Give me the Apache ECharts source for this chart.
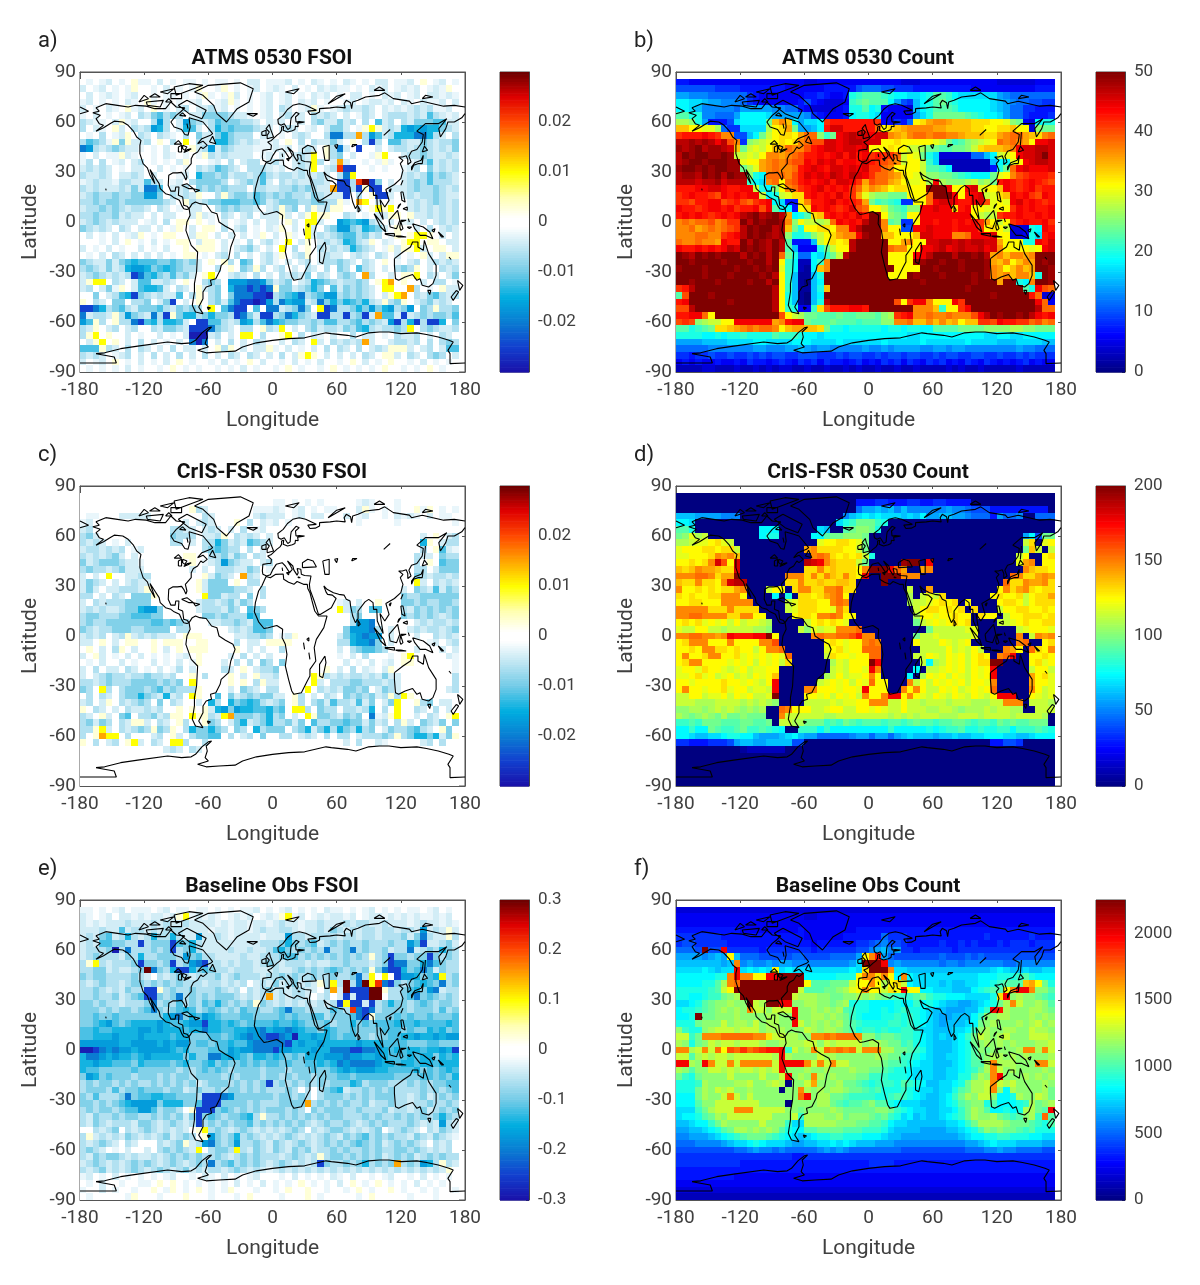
<!DOCTYPE html>
<html><head><meta charset="utf-8">
<style>html,body{margin:0;padding:0;background:#fff}#c{width:1200px;height:1285px}</style>
<script src="https://cdn.jsdelivr.net/npm/echarts@6/dist/echarts.min.js"></script>
</head><body><div id="c"></div>
<script>
// Each row: one latitude band (north to south, 4 degrees tall), groups of cells spanning 60 degrees of longitude (6 degrees per cell).
const atmsFsoiRows = [
".a.ab.a.+a a.b.a.aa.a .aa.a.bb.a aab.a.ba.a .ba.a.bb.a ab.+.ab.a",
"b.ab.a.a+. .a.b.a.a+. .a+.a.ab.a ba.b.a.bab aa.a.bab.a bab.aba+.",
".b.aba.ab. .a.aa.a.a+ a.a+b.a.ab .ab.a.bab. a.bb.a.bab .ab.bbaba",
"ab.a.a.ba. +a.a.a.ab. .ab+a.a.ab .ab.bab.a. .ab.abbab. ba.baab.b",
"b.a.ba.+ab .+.a.bc.bb cab.a.a.ab .cb.ab+a.a bcbbcb.bab abcbcaab.",
"a.b.a.ab.c bdecdc.bbd dddcbba.ab .bcab.cbcb .b.acb.bcc cbcbecbab",
"cbaa.b+ab. .cgc.bgdcb cedddccb.b ab.ab.cdbb dbc.c.ebc. cbdddeebb",
"c.ba.+b.cb cgfc.bfeb. cfdedddcbb .bcb.ab.bd db.a+y+bcb fgfgffdcb",
".a.c.ab+.c b.cba.c.db bdfdccc.bb .a.bcb..ch hccocgebcf ffhhfcb.c",
"cedca+d+bb c.+.c.y.cb bffdcbcbaa b.+.c.cbbd b.+.cic.ee cbbdcbccd",
"hgcbcdcbba .a.b...+bc gbdcbbbaaa bab.bcb.+c hb.i..b.bc cbcdcbcbd",
"a.b.aa+ba. .a.ba.a.a+ cbcbbbb.ab .b.bcby.+c d.b..a+y.. bccdcbbcb",
"ac.c.ab.bc .a.a.b+... ab.c.bcc.b ca.bcbyc.b ob..a.a+a. .abcebcbc",
"bcbcb.a.bb ..b.a.a.cb cedcb.cccb ab.bcby.bc rii..a.a.. abc.dbcbc",
"cbbcb.bbcb .b...ab.fd dcdbccbcec bccbcbbcb. chy....... bcbcecdcb",
"abcbbaccbb ecb.ab.cdd ddc.bcdceb .cbcbbccb. iicrRid.b. bcdcecccb",
"cbcbbbcbdb hhe.bbc.dc dcdccc.ccb bccdcdcbbo iici+ii.bb bcdccdcbc",
"bcdccdccdd ggd.cbcb+. .c+cddcedc dcdccbdcbb bi.c.+iib. bcbccdcbb",
"ccdcddcddd dddcb.+cbc ddeeeddedb cdddccddcc +a.oy.b.a. .bcbcdcbc",
"bccdcdcbcc b.cb.a.bb. .cdcdccb.b c+cd.c+bc+ +..b.+y+y. .bcbcbcbc",
"ccdccdbcbb .b.bb..b+b a.cb.bc.bb b+b.b+y++. .cb.a.bb++ .+bbcbcbc",
"bcdcbcbbb. ab.c.++.+. a.b.ab.b.b b.+b.yyb.. gfefgcb.b. ab.b.bcbc",
"dcbcb.cb.b b.b.a+.b.+ +.c.bc.a.b a+.b.yb.cd ggdcfedb.+ ..b.c.bcb",
".b.a.b.ab+ .a.++..b++ .b.b.b.a+. b.+a.ybcbc deecdbc.a+ .+yy+.b.b",
"...a.b.+.a .b.a.++.b+ +.b.a.c.bc a.y.b+.bcb cfecb+.ba. +yy.++.bb",
"b.a.b.a..b .a.b..+.++ +.b.bcdb.b .y.c.+.cbc bcfdcb.a+b ++yb.++.b",
".a.b.cb.b. b.b.a.++.a .bc.c.b.bc a+.bc+.bcb b.bcb.cb.b .a.+b.b++",
"dcbbdbdefe eeddedcdb. +.+c.ed.bc a.b.bc.bcc dcb.cb.+.a .bc.bcbcb",
"cdcbdbcfgg fdefedccb. .c.+.dc+c. bc.b.cb.c. dc.ecb.b.c dc+.b.cbc",
"bcdcbcbcih efdcecdb.+ y..bcb.c.b .cbcbd.cb. cdc.oc..b. ++y.cb.bd",
"b+yy.cb.be ebbcb.+..c dc.ggghhgd bcd.bcfedc bccdc.+yo. +..b.cc.a",
"bc.bda+.be ffeb.cb.+b cd.fhhihih +ddbcdfd.e bdcdcb.yy. .oc.a.+bb",
"..d.bcefid cbcbbe.c+. cd.dhhhiij cdefhcdegg cdcdcb.b+y o.cbdecbc",
"+.cb.dd.cc d.bdi.b.+. cdbehiijig chfggbchdf dfedfcb+cd +.bcdbcb.",
"iihfcdecbd ddecbdcdc. y.ehii.e.h hbcdhd.yih ccdfdgdfgc dg.dc+ccd",
"hbccb+cgdc bhci+dffcd fddcihdbii cdhfdcbiic cicdiboeeb ibcdcddce",
"ge+c.+cchi efcffeb.ii eecbcgfceh feddccdcee ccdecdcbgi cficiif.d",
"cb+.bc.bc. .cbddcbiii hdcb.cc.+c by.b.cdbcc bdcefcbccd cy.cdcbbc",
"c+y.+..b.a ..b.a.bjjj bc.b.yy.c. .+y.c.ba.b ..c.bb.a.c bbc.b.cb.",
".b+y.+.b.c .b.a.b.hjh .b.c.b.cb. .b.cb.yb.c bcbcob..bc cbc.c.cdc",
"eee+cb.c.c b.b.c.bb.b .+c+.b.bb+ a.b.a.b.c. cb.c.bcb++ +b.bc.bee",
"cbcb.abc.b .c.b.c.b.c .b.cb.cb.b .c.b+y+.b. b.b.cb.++b .cb.cdc.b",
"b.ab.+.a.b .a.b.+.a.. a.b.a.+.b. .a.b.a.b.. a.+.b.a.+. .a.b.a.a.",
".a.a.a.b.a ..a.+.a.a. .a.a.b.a.. a.+.a..a.+ .a.a.a.+.. a.a.+.a.."
];
const atmsCountRows = [
"5544444444 4444444444 3344444444 4444433344 4444444444 333333444",
"7777776666 5555555444 4445555578 8877666555 5555554444 444444555",
"aa99988888 8654444444 5565445efg ggfeddccde ggfdcccccc a98888888",
"ddccbaa999 8654444445 7543334fgh gggda76bde ghfedddddc ba9887766",
"ddcb999998 aaaaa99885 4333345eeg de54443bde gggfdddddc ba8866555",
"ggee99888a ddddcaaaaa 9654445dee dc44444ace hhhhhgfedd ca8865556",
"jjiea5557c ddddhoqoda ccdtuuuuuu ut44658mnp qqpooonnnm mlih43dee",
"oommllj866 ccccjmnpha abduwwuuuu urmnopqqqq ppoooonnmm nnomm3ihh",
"tuuuvutqq7 7bdhkmnnmp rrifhvwxww vwwqpoqrrq rrqqpooonn pqrrponqr",
"xxyxyxvxsq 6ijklmnmnq rsswwvwxxw wwmmnmmmmm lkhfgijklm rqrqpmvvw",
"yxyzxyyxwo hklkmoorqq suvwwvwwvw mmmnmmkkjh hgghhiknoo opqvwwxxw",
"xzyzzyyzyk klkmqqpqrs uuvuvwuwuv tuttrkmlhe c3333388bd klmvwwxzw",
"xyzzyzzzyy lmmpqrqrss vuwvwuvvuw utsrqkmmkf c22222222b ddlmvwxxw",
"yzzyzyzzyy hjlpqrqqru vwvuwwvwvw ttrqmmmmkg gfd2222225 ehrvwvvvw",
"xyyxzyzxzy yiedrrrqsu wvwvxwvxwv trrqpnmlki ihhgfedddh lmqstuuut",
"xxxwxxywxx xfdcqrmrsu vuvwuwwvtp srrpomllmj vjiiijkijh uvutuvuts",
"uuuvvwwvuu vvkedimqrt uvwuvuvtro qpomnnmmmz zzvmmvwlmm ovutuvtuu",
"tuvuutsvuv uvvkdeklnn uvuvuwutpl jiihhhmmmr zzzvmuvwkl novuvtsvu",
"ttsuuvvstu srtuvdc55n quuvwuvutp hfgfe66mmr vwwvuuvwsl mlvwuvutu",
"vuutuvvuvt uuvsvgdd5m nvuvutuwsr mmkhgfiivv wvvnuvmmll mmtvuvuuv",
"uvuvutuvuv xyzxyzxpde gnouvuvuwu zzmihgmmvv vvvvvvmkjk tuuvuuvuv",
"qrqrrsqrtt zxzyzzyqim kkjkrvuvux zzqgh66mvv uvvuvuvtpm kmtuvuuvt",
"qqrpqrqrst xzyzzxyohe mmnnmqqvxz zzqmm77vvw vvvuvvvtmn mk333edvu",
"qqqrrqqtuv xzyzyxyiee fikmnpqqvy zzoommmoww vvvqqrvvvw mm334ecuv",
"rqqrqqpvuu zxzyxzxg55 5bkmnmnxzz zzzmmpqmmw wxxwxwxxww pmmmeevuw",
"vuuvuvuvxw zyzyxzxgb4 44ehkmmxzz zzzrqqmmvv wxvwxwwxvw qmmmmlmvw",
"zyxzyzyzzz xzyzxzrhe8 8dcfhkxzzz zzzmmmmvvx zzzxzzyzxp qoqqpqzzz",
"zzyzzzzyzz zyzzxzmfd2 2dfqzzzzzz zzzmmmmzyz zyzzyzzzyp oqmoqpzyz",
"yzzzyzzzzy zzyzyzlfd2 1doqzzzzzz zzzzmmmmzz yzzzyzzzyq pmoqopzzy",
"zzzzyzzzyz zzzyzxmfb1 1bezzzzzzz zzzmmmzyzz zyzzzzyzyq pqoqqoezy",
"zzyzzzyzzz zyzzxzmfb1 0bdzzzzzzz zzzzzzzzyz zzzzzzyzzz pzzedqzzy",
"tuxzzzzzzz zzzzzxmfb1 1beozzzzzz zzzzzzzzzz zzzzzyzzzz zzzzgevsr",
"gszzzyzzzz zzzzzxmeb1 0bdzzzzzzz zzzzzzzzzz zzzzzzzzzy zzzzzur33",
"uvzzzzzzyz zzzzzxmeb1 0bexzzzzzz zzzzsmtvvq mmmvtzzzzz zzzzzzvr4",
"ssxzzzzzzz zzzzzxmfe4 4fnsuuuvvu zzzzzzzqqq ofmmtvzzzz zzzzzzxrr",
"uuvvrmzzzz zzzzzzsmkj hhggghgghh hgijtuvqqr qqrqqqsvxz yzzyzxvuv",
"stsijkkmmv vvvvvpquvv hggghgggfg ggiiqqrooq oqopmootts vuuttrsqr",
"ggefghnnop qrqrrqmopp oonheedeee eedeedeedd gggghhhhii iijjiihhh",
"eeeeddedee feeeegfffe ddcddddddd ddddddccdd ddddddddcc ddccddddd",
"aaaabbbbcc ccddccccdd dccccdcccc ccdcccccdc cccccdcccc bbbccccbb",
"8888899999 99aa999aab a9aa99999a 99a9aaaa99 aa9aa99999 999a99888",
"6656676676 6767677667 7766676776 6767767766 7677667766 766767666",
"4545445445 4655456546 5646554564 5465646546 5645465465 454564544",
"2222332223 2232323322 3223223232 2322322322 2232322322 222322222"
];
const crisFsoiRows = [
".......... .......... .......... .......... .......... .........",
".......... .......... .......... aa.a.a.a.. ...aba...a .........",
".......... .......+cb .......aaa ba.ab.a.aa ...b+a.a.a ..+a+.a.a",
".aa...bbbb b........c b......bcb bb.ab.bb.. .b.ab..a.b aba.b.aa.",
"ab........ ......b.bc b...+.c.ba b.a....... ...a.....a ........a",
"bc........ ....ccbb.b cb.b.c.ab. .......... .......... .........",
"cdb....... ....dccc.b bc+.cbcb.b .......... .......... ...b.+.bc",
"cbcb.a.b.. ....cc.b.c cfdbcbedcb .......... .......... ...f+.bcc",
"bccbcbc.ab .........c dedcc.c.b. .......... .......... ...c.+eba",
"cbcbcdb.b. ......++.. ccdbdc.cb. .......... .......... ..cbb.dcc",
"dbcdddcbba .......+.a bcgdcbb.bc .......... .......... ..c.+.edd",
"cdccbcdbbb .......b.b .cccbbdc.a .......... .......... ..cc.bddd",
"b.b.y..bbc c........+ bdcb.ocb.. .......... .......... ..dcbccbc",
"bdcb.b.bcb b.......+b ddd.+.cc.. .......... .......... ..yb.cbcb",
"bdb.bbcccb +.......+b ddddccb.c. .......... .......... b.dcbebdc",
"cc.b.cb.dd d+.......y ddbcc.d.c. .......... .......... dccdddddd",
"b.cbcccddd d.......bc cbcdbdc... .......... ab.b..+... ddcdccddc",
"bcbcbbcddf ggd.....bc ccbdc.edc. .......... ybdc.ee... cbdcdcdcd",
"cddcccddee edd......d dcdcccfe.. .......... ..cd...... dcdcdcbcd",
"cdccdddddd deededc... bbccdcbeee .......... ..cggh.... ..bcbccbc",
"dcbccdddcc dddd.cc... ...bcbceed .......... .dggghc.b. .bcbccbcd",
"bcbc.bc+bc bcbbb.+++. ....bbccdc .ab+...... bdfghgg.b. ..b..cbcb",
"bb.+.b.++. .+.+++..++ ....c.bb.+ +++....... ccfgghd.b. ....ab.bc",
".+.b.c+.b. .+.b.+.+++ ....+.b.b. .c........ b.cdeedc.. ..b...b.b",
"b.+b.a.b.b .a.a.ab.+. ...b.c.b.b .......... a.b.c...a. +y.....ba",
".a.b..b.a. .b.a.b.a+. ..b.c.c.dc .d........ .b.a.b.ab. ++......a",
"b.c.bb.cb. a.b.ac.b.. ..cb.+.bcc d.......+. b.c.ba.b+. ........a",
"b.bcdccbcc dccbc..+.c ...+.b.+bb c.....y+cb cbccbcbdbb ........c",
"ccbcdcccdd ddcdcd.y.. ...+.+.c+b b.....yb.c ccddcccbcb ........c",
"dc.yc.cddd cdecdccc+. ...b.dcb.c c....y.cbc bddcd.bdcb .......bc",
".c.cb.cddf dcbfbc.y+. .e.dbcdcdd bb.+c.b.cb .dcdcdbc+c y+.......",
"bc.b+.cbcd c.d.cb..b. fc.fdefecb cd.+c.cdbe ccbebd.bdy ..+cd.bb.",
"+.cb.b.cbb cbc..+.+.+ bfgdgffeef de.yyc.dcc .ccbcf.c.y ..cb.c.b.",
"cb.+b.de.c cdbc++.y++ cbyodddcdf cd.b.y+ddc bdcd.hab+y ..b.cb.+y",
"cdbdc.cb++ b.cb.+c..+ dc.bdfbcdf ccdbd.eccd deddbdbc.c +b.dcbd.d",
"cc+yb.cbcd c+dc+.cfdd fdc.dc.fcd dd.cdfbdfc fdcfcd.bdc cdecb.+d.",
"c.+oyy.c.. .bc.+b.cdd ee.c.bc.d. .cc.bcb.c. cc.bcccdc+ cdffdfbd+",
"+.c.bc.+yb .cb.yyc..c .......... .......... .b.c..ba.. ...bc.c..",
".......... ...bcb.cb. .......... .......... .......... .........",
".......... .......... .......... .......... .......... .........",
".......... .......... .......... .......... .......... .........",
".......... .......... .......... .......... .......... .........",
".......... .......... .......... .......... .......... .........",
".......... .......... .......... .......... .......... ........."
];
const crisCountRows = [
"0000000000 0000000000 0000000000 0000000000 0000000000 000000000",
"0000000000 0000000000 0000000055 5665556655 6655550000 000000000",
"0000000000 0000000000 000000008a abab9b9999 99a9987775 555555550",
"bbbaaaa999 0000000000 0000009bcd cdcccbcbda abbaa98885 a88900888",
"ddc0000000 0000000000 00000cefhh hfe0000000 0000000000 000000000",
"gge0000000 000ddd0000 00cb00ghii he00000000 0000000000 000000000",
"hiljk00000 000dee0000 0ddghhiiih 0000000000 0000000000 0000ad7hh",
"jjkllmnlk0 0000000000 00lmmnnmlh 0000000000 0000000000 0000kn0lm",
"lmmmnnmnnk 0000000000 pqnnnnmmkh 0000000000 0000000000 0000hok0k",
"llmmmnqpqo 0000000000 0qrqnmnmnk e000000000 0000000000 000km00mn",
"mmnmnqwsmw 0000000000 xwvqonnnkh 00000yzz0v 0000000000 000lpq0mm",
"onoqpponnw 0000000000 nnqnonnnmq zzzvrp00pq 0000000000 0000qonnm",
"qqqrrqnppz 0000000qqq nqnqonqnmv 00zzzqqq00 0000000000 00rqnnpqp",
"onnqnnmqwx x000000nnq nnonnoon00 00z0000000 0000000000 0rnnqppqn",
"qmmnmnmnnp q000kmm0nq qnnqqrnn00 000000k00p 0000000000 mqnpqnmnn",
"nmnmmnnqqq m0000d0e0n nmnpqrm000 000000j0kl kn0000000m nmmnkmnnp",
"mmnnmmmqqq qq00000kln nnmmqrq000 000000jkkl mnmn0m0000 mnnmkmnnn",
"qqqqqnnnqn nnn0000kln nnmmlqn000 0000000kmn nmnmn0n000 kmmnnmmnm",
"qqrrqqqqnn qqmm0000mn nmqqrqmm00 0000000jmm lmmnmm0nmm 0kmmnnnmn",
"mnmnlmlmkm kllkj00000 kmnmnml000 0000000hkl mlmnmn0000 kklmnmmnn",
"lkkmmkkjkk kkjji0000k ilkllqqqr0 000000000h kkkkkll000 000klmmml",
"qqrrqqpqvu uuvvzm0000 0qrqqrrsuq q000000hkk lkkkkkl000 000q0kqpq",
"mnqqqmmmqm mmmqqs0000 000mnmlmmq rq00000mkk kmlklm0000 000qr00mn",
"mmnmqqnnmn mmkmqqr000 000lmnlmmr rr000000kk kkmklkmk00 0qpm0rnmq",
"mqmmnqqmmn lmlmlmlr00 000knmmlmm rr00000kkm lkmlmkmnm0 qrv00mmnm",
"mnqqmmmmlm lmkmlmkn00 0000jlkmmm zv000000kd jkmlmkmnnz z0000mnlm",
"lmmlnmmlkl mkllmm0000 0000klkmml vq00000d0k klmlmkmlmv 00000kmmk",
"llmnlmklmk lkmlmo0000 000jkmkllm qm0000d0jm lmkmlkmlmv 00000pmnl",
"mmlmmmmnmm lmlkmv0000 00klmlmkml rmm000qkmk mlmlmkmmlq 00000pmml",
"mqmmlmmnlm mkllkv0000 qqmmmlmmlv mmm00qmqmk kmlmklmlmr 00000qmkl",
"kkmmkllmkm lmkklz0000 mmlmkmlmkq mmqvvmqmlk mlkmlkmlkm vvv00mlkl",
"kkkjjjkkkk jkjkji0000 kkkklkllmm qqqkkmkkjk kkjkkkjjjk kqqq0kkkj",
"iijjijkjkj ijij00rqmm mkklmmkkmm lmlkkmkkkj jkkjijjjkj kkjj00kkk",
"jihijihjhh ihhh00qkkk kkkjjkkkkk kkkjkjkjkk kjjjkkkjkk kkjkkkkj0",
"ffgfhhhggg hhggh0kkjj hhhfgfhgfg ggfggfghgg fgghhgfggf hghgghhh0",
"ddfddhgffg hffgfed00f ffdfdddddd dddfddddde deffgeefee ffdfffgfe",
"ddcbbccdee ddbaaabcdb aa888889aa 8aa8abcbbb abbcbbccdd dccbbcddd",
"665556667a bbaabbbb77 0000000000 0000000000 0000000005 577600000",
"0000000000 1222222000 0000000000 0000000000 0000000000 000000000",
"0000000000 0000000000 0000000000 0000000000 0000000000 000000000",
"0000000000 0000000000 0000000000 0000000000 0000000000 000000000",
"0000000000 0000000000 0000000000 0000000000 0000000000 000000000",
"0000000000 0000000000 0000000000 0000000000 0000000000 000000000",
"0000000000 0000000000 0000000000 0000000000 0000000000 000000000"
];
const baseFsoiRows = [
"aa.a.ab.aa a.ab.aa.aa .a.a.aab.a .ab.a.a.ba a.a.ab.a.a .aa.ab.a.",
"ba.ab.bbab abbab+yaba ba.abab.ab a+yab.abab bab.abbaba babaabab.",
"bababbbcbb bcbcbbcbbb bababbabba bcbbabbcbb bcbccbbcbb babcbbaba",
"bbbcbbebcc bcbcccbbbb abbabbabcb bccbabbcbd cbcbccbccb ccbgbcb+b",
"bcbdebcfcb cfccfcbbgb bcbabbbbab bbgccbcccc bccbccbccc dbdhcbb+c",
"bcbeeddcci cdddiedfcb bbbbbbbbcc cdfdcdebcd cdccdcccdc cgeibbcdb",
"bcccdjchcc cdcdicdfcb bbbcbbcbbc efdcdcdchc cdhcdccdbc chbcdcfdc",
"bcdcccbdcf ccdddcgdec cbbbbcbbcc cdeecdcdcd cdcdc+cdid dcddidcdc",
"c+ycbcccdi ddcdicdghi ccbcbccbcd cbcccbcbbc cdcccbcdih hddfhedcc",
"ccddbcbbcd Rhdcfiifde dccbcccbbb cbbcdcdcde dcdcd+dhii fdehebdcc",
"dcddccccdc b.cbcdcbcc cdbcdcccbc cdcdccdccd ccdhcy.y.i ggfdefycd",
"cbcdccbcdd cdcdcdcccb ccbcbc.bcb dbcdbcb+cy cRchRyrhid cdefedhcd",
"ccdcbcbdcc ii+cdccdcc cdcbc.cbcd bcbccbb.co bRiiiRR+cc defdghbcc",
"ccdccdbcde iidcdhcdcd cdddcbcbco bcbccb.bc. bibiiRR.cc dehdedcdc",
"ddcdccbccc dhcdcecdce dfdcdcd+dc bcbcbcbcbc iyiibicdfd dcdedcddc",
"dddcdcddcd ehdcdefecd edcdceddcc dehddcccce dcrhihcddd dcdddcecd",
"ddeddedddd dddfghdfeg fedddeeddd dededdeecd ddehi+ddde deddeddde",
"ddefgedeff ffgfeefggi ffefedeeee feefedddec ddfdedeeef eefeeeefe",
"eefeeffffg gfgfffeffh ffeeffgghf gghgfeedfe ddeddddeee deddfefde",
"eefffgfffg ffffeffddd eedefghghi ihgjffgffe deeddcddee ffgffgfgg",
"ggggggffgg ggfgfggdee deefeeghhh hhifgffgff fffgfffeee edddeeddd",
"jjihghggfg ggggfefddd eeegfgghhh iggfffgffh hhiihhgfef effeffgfi",
"fhhgfgffef gfffffdfdd hhfgfedffe fededfffgg ghggffgfee efeffdfef",
"ffgffeeedf eeeedefdde fdeddedede ededdeefef hghhhhgffe ffeffefff",
"feeddddded dddddcdcde dedcddddcd ddcdddedde fgfgggffee eefdedefe",
"dgfdedddcd ddcdcddcdd ddcdcdddcd dcdcddcddd eedeeeeeed dddeededf",
"cdcddcdcdc cdcdcdcdbc dddcdcdcdi cdcdcdcdcd ddfecdddcc cdcdcddee",
"cdddcecdde dddcddbcdc cdcddcdcdc ccdc.c.cde fbccdcdcdc cccdcdcde",
"dcecccdhde effeedddci iihgdddddd cddcdc.cdd dcdcdcdddc cbcdbcdcd",
"ddcdcdefgg ggdfffddei iiddddcdcc cddddocdcd cdccdbccdc cbccdccdc",
"cdcddcdeeg gecddc.+ii idedcdcdcd ddcdc.dcdd dccdcccdbc cbcdbcdcd",
"cbdccdcddc cdcdcdbdid edcddefc+c cdcdcdcdcd dcccdcdccd cdcdcdfdc",
"cbdcbcccbd dcbcdcbcic dcdcddecdc dcdcdcbcdc cdcbcdcdcc cdcbcbgcb",
"..cbcd.cbc dcbcbcb.+y cdcbcdcbcb cbcdc.cbcd dcbcbcd.bc dcb.cbdcb",
"c+bcbcbdcb cbcdbcdc.+ gdcdfcdcbc bcdcbcbcdc bdcdecdcdc cbdcbdcba",
"cbcdcb.cb. ..cbcd+bcg hdcdgccdcb dcbcdcbcdc dcdedcdbcd cdcb.cbc.",
"cdcb.a.b.. b.cdcdcby. cddcycbdcb dcbdcdbccd cdccdcdccd dcdcbcbc.",
"cbdcddcbcb bcbcdcdcdc cdcbcdcdcc cbcdcbc+cd dcdcdcdbcd cdbcdcdcc",
"bcdcbcbcdc dcbcdcbcdc hcdecdcdcb cdcbcbcidc cdcdfcdcdo cdcgfc+cb",
"cbcdbcbcdc bcdcbcdbcb ccbcdcbcba bcbcbcbcbc bcbcbcbcbc bcbcbcb+.",
"ab.a.b.a.a .a.ab..a.b a.b.a.ab.. .a.b.a.a.b a.b..a.ab. .a.b.a.a.",
".a.b..a..a a.+.+.a.a. a.a.b.a.b. a.a.+.a.a. b.+.a.+.a. a.b.a.a..",
"a..b.a..a. .+.a+.a.+. a.a+...a.. a.+..+..a. .a.+.a..+. a..a.a..a",
".a.....a+. ..a...+... a...a.+... .a...+.a.. ...a.+.... .a...a..."
];
const baseCountRows = [
"3333333333 3333333333 3333333333 3333333333 3333333333 333333333",
"4444444444 4444444444 3344444444 4444444444 4444444444 444444444",
"4444444444 4444444444 4444444444 4444444444 4444444444 444444444",
"5555555555 4444444445 4444444455 5555555555 5555555555 555555555",
"6666666555 5555555555 4444445555 5586665555 5555555565 555556555",
"6776666655 5555555555 5455555566 7897765555 5655656555 656665666",
"8887z77v66 6665666666 6566666677 9ab9a66566 6665666666 666666666",
"aaaa9abamb 8887777788 77778888am qua8777777 7877787877 777777777",
"bbbbbbbabq 9a99a9aa99 9999999acz zzv9a99999 9899899999 988999999",
"ccccdcbccv cdcdcmcdcc cccccccdcn zzzqccbbbb bbbbbbbbbc dcbbcbbcc",
"ddddddeeqv qqmmvvzzzz dddddeeemq qnqmdqdccc cccccccddd eeefgeddd",
"ddddeegjqr zzzzzzzzzz mggghhhkmm qmjmnkdccc cbcbbccdde fgggopmhe",
"eeeeefgkmz zzzzzzzzzk ggghhijlmq mmknmvmmdd cccbbbdefg gmqvvqiig",
"eeddeffhij zzzzzzzzkj jjiihhiiji jihgfffghf eedddcccce nvijiihgf",
"ccdeghiiji izkjzzvvii jjiihijeee ddddeddfde dcbbaabcde hjqkiijig",
"deefghijij iqkkikkkvi ijijijgfee ddedefeedc bbaaabbdfv ujiiijjih",
"ddezhhiiij iiiijjiivi ijjijihfed ddeefefedc baabbbdfii jjiiijiji",
"eeehiiikij jikijjiivk ijijijhgfe eeeffefedc babbbcdhij iiijijkij",
"ifeeijkkkj kkkijjjiii kjijjihgef fefeeffecc bbbccdfiji ijjiikjji",
"kkfhqqqrrr rrqqnkkjji iqqrqrrrqi ighhgffedc bcbcdfhkji jkiiikkkj",
"jiehikjkkj kkkjiijjjj kkikjkkkki jjihhfgedc bbbcdehiji jijiiijjk",
"qqjkqkrmsr trstuuvfki jqkrqrqrkq qqjjhhgfec bbbcdegihi iiijqqjqk",
"kkgjkjkkjk kkkkkjvjii iikjjiiiii ijihhffedc bbccdeghij jijijiiij",
"vvjivqkkqk qqqqqkvvvv qkqkqkkiii iihggfedcc bbbcdeggjq jjjiiiqqk",
"jigiikkjkj kkjkjkviii jiijiiijii hhgfeedccc bbccdefhjq kijiiiiji",
"hfehiiiiki iiikiikvij iqjijiiihh fffeeedccc bbcceehjiq viiijijij",
"eeefjiiiij jkiijkj0ii kpiiijhhgf efffegfedb bccdehjjkq kjkiiiiji",
"eeehjikjki ijiiii0iiq jijijjihhg fgeeefedcc bcceghjjkq idjiiiijh",
"dddhjiikqk ikiiiiiiir vijjhhgfff feefgfedcb bcdfhjikki ddejiikjh",
"dddgiikkkk kkkiiii0ii iijjhgfggh iggedcccbb bcdeghiieg dddefjhij",
"cccfhjkkkq qqkkkkkiih iiiijihhhh hiihfedccb bccdfhjigd dedejjhgv",
"cddeghjikk kkkkkiiikf jjjiijhiii hghfecdbcb bcdefhjiij hgfgijfrg",
"bbcddfhjii iiikiiifcc jjjjjiiihh ggfdccbbbb bbccdfhjjj jihhhgfeg",
"aabbcdeghj jijijigedd gghhhhgggf ffecbbbbaa aabbcdegih ihhgfgeee",
"99aaabcdef ghhhgfedcb cdeeffeeed ddcbbaaaaa aaaabcddee ffeeeddcc",
"8889999abc cdedcccbaa bbccdcdcbb baaa999999 99999aabcd cccbbbbaa",
"7777777778 89a9989888 889a9a9888 8888877777 7777788899 a99888877",
"6666666666 6666666655 6666666666 6666666666 6666666666 666666666",
"6666666666 5555555555 5555555555 6666555555 5555555555 555555555",
"5555555555 5555555555 5555555555 5555555555 5555555555 555555555",
"5555555554 4444444444 4444444444 4444444444 4444444444 444444444",
"4444444444 4444444444 4444444444 4444444444 4444444444 444444444",
"3333333333 3333333333 3333333333 3333333333 3333333333 333333333",
"2222222222 2222222222 2222222222 2222222222 2222222222 222222222"
];
const fsoiCodes = {'.':0,a:-.08,b:-.13,c:-.2,d:-.3,e:-.39,f:-.47,g:-.56,h:-.67,i:-.83,j:-.95,'+':.1,y:.33,o:.5,r:.72,R:1};
const countCodes = "0123456789abcdefghijklmnopqrstuvwxyz";
const coastlines = [
[[-156,71],[-165,68.5],[-162,66.5],[-168,65.5],[-161,64],[-165,62],[-162,59],[-158,58],[-165,54.5],[-158,56.5],[-152,59],[-148,60.5],[-140,60],[-135,58],[-130,54.5],[-127,51],[-123,49],[-124,46],[-124,41],[-121,35],[-117,32.5],[-114.5,28],[-110,23],[-112,27],[-114.5,31.5],[-110,27],[-106,23],[-105,20],[-100,17],[-95,16],[-92,14.5],[-87,13],[-85,10],[-83,8],[-80,7.5],[-78,8],[-80,9.5],[-83,10],[-84,15],[-88,16],[-87.5,21],[-90.5,21],[-91,18.5],[-95,18.5],[-97.5,22],[-97,28],[-93,29.5],[-89,29.5],[-85,29.8],[-83,28],[-81,25.2],[-80,27],[-81.5,31],[-76,35],[-76,38],[-74,40.5],[-70,42],[-67,45],[-65,44],[-61,46],[-65,48.5],[-70,47],[-66,50],[-58,52],[-56,53],[-61,57],[-65,60],[-70,61],[-78,62.5],[-77,57],[-79,52],[-82,52.5],[-85,55.5],[-92,57],[-95,60],[-90,64],[-86,66],[-82,68.5],[-90,69],[-95,72],[-100,68],[-110,68],[-118,69.5],[-128,70],[-135,69],[-145,70],[-156,71]],
[[-78,8],[-75,11],[-72,12],[-68,11],[-62,10.5],[-57,6],[-52,5],[-50,0],[-44,-2.5],[-37,-5],[-35,-8],[-39,-15],[-41,-22],[-48,-26],[-49,-29],[-53,-34],[-58,-35],[-57,-38],[-62,-39],[-65,-42],[-65,-46],[-69,-51],[-65,-55],[-72,-54],[-75,-50],[-73,-42],[-73,-37],[-71,-30],[-70,-18],[-76,-14],[-81,-5],[-80,0],[-77,4],[-78,8]],
[[-6,35.7],[-2,35],[3,37],[10,37.2],[10.5,34],[15,32.3],[20,31],[23,32.7],[29,31],[32.5,31],[33,28.5],[35,26],[37,21],[39.5,15],[43,12],[51,12],[48,5],[41,-2],[39,-7],[40.5,-15],[35,-20],[35,-24],[32.5,-27],[27,-34],[20,-35],[18,-33],[15,-26],[12,-18],[13.5,-11],[12,-5],[9,-1],[9.5,4],[4,6.3],[-4,5],[-8,4.5],[-13,8.5],[-17,14.5],[-16,20],[-13,27],[-10,30],[-6,35.7]],
[[-9,37],[-9.5,39],[-9,43],[-4,43.5],[-1.5,43.5],[-1,46],[-4.5,48],[-1.5,48.7],[1.5,50.5],[4,52],[7,53.5],[8.5,55],[8.5,57],[10.5,57.5],[10,55],[11,54],[14,54],[18.5,54.7],[21,55.5],[21.5,57.5],[24,57.2],[23.5,59.3],[28,59.7],[30,60],[25,60.2],[22,60],[21.5,63],[25,65],[22,65.8],[17.5,62.5],[17,60.5],[18.5,59.5],[16.5,56.5],[14.3,55.5],[12.8,55.5],[11,59],[8,58],[5.5,59],[5,61.5],[10,64],[14,67.5],[19,70],[25,71],[31,70],[41,67],[40,66],[33,66.5],[35,64.5],[40,64.7],[44,66],[44,68],[54,68.5],[60,69],[68,68.5],[67,71],[69,73],[73,71.5],[74,68],[75,72],[80,73],[87,75],[100,76],[105,77.5],[113,74],[128,72.5],[130,71],[140,72.5],[150,71],[160,69.5],[170,70],[180,69]],
[[-180,69],[-172,66.5],[-180,65]],
[[180,65],[177,62.5],[170,60],[164,60],[162,56],[157,51],[155.5,56],[163,62],[155,59],[143,59],[135,54.5],[141,52.5],[140,48],[135,43.5],[130,42.5],[127.5,39.5],[129.5,36],[126.5,34.5],[126.5,37.5],[125,39.7],[121.5,39],[118,39],[122,37],[119.5,35],[122,31],[120,26],[114,22.5],[110,21],[106,19.5],[109,13],[105,9],[100.5,13.5],[103.5,1.5],[100,6],[98,9],[97.5,16],[94.5,16],[94,20],[90,22],[86.5,20.5],[80,15],[80,10.5],[77.5,8],[75,12],[73,18],[72.5,21],[69,22],[67,24.5],[62,25],[57,26],[56,27],[51,28],[48,30],[50,26.5],[51.5,25],[56,24.5],[59.5,22.5],[55,17],[45,13],[43,13],[39,21],[35,28],[34.5,31],[36,36],[30,36.3],[27,37],[26.5,40],[23,40.5],[24,38],[23,36.5],[20,39.5],[19,42],[14,45],[16,43],[18.5,40],[16,38],[12,42],[9,44],[3.5,43],[0,39.5],[-2,36.7],[-5.5,36],[-9,37]],
[[28,41],[41,41.5],[38,45],[33,46],[28,44],[28,41]],
[[47,45],[53,46],[53,37],[49,37],[47,45]],
[[58,46],[61,46.5],[60,44],[58,46]],
[[104,52],[110,55.5],[109,55],[104,52]],
[[74,45],[79,46.5],[75,46.5],[74,45]],
[[32,-2],[34,-1],[34,-3],[32,-2]],
[[29,-4],[30,-8],[31,-8],[29,-4]],
[[34,-10],[35,-14],[34.5,-14],[34,-10]],
[[-92,46.7],[-85,46.7],[-88,48.8],[-92,46.7]],
[[-88,42],[-85,42],[-85,46],[-88,45],[-88,42]],
[[-84,46],[-80,45],[-82,43],[-84,44],[-84,46]],
[[-83,41.7],[-79,42.8],[-76,44],[-79.5,43.5],[-83,41.7]],
[[-73,78],[-60,82],[-30,83.5],[-18,80],[-22,72],[-33,68],[-43,60],[-52,65],[-55,70],[-65,76],[-73,78]],
[[-80,73],[-62,67],[-66,62],[-78,65],[-88,70],[-80,73]],
[[-90,76],[-65,82],[-78,83],[-92,81],[-90,76]],
[[-117,70],[-105,69],[-102,73],[-118,72],[-117,70]],
[[-125,72],[-116,74],[-120,76],[-125,72]],
[[-115,75],[-105,75],[-110,77],[-115,75]],
[[-95,74],[-85,74],[-85,77],[-95,77],[-95,74]],
[[-105,78],[-98,77],[-92,80],[-105,78]],
[[-100,72],[-94,72],[-97,74],[-100,72]],
[[-87,64],[-81,63.5],[-84,65.5],[-87,64]],
[[-79,56],[-80,59],[-79,58],[-79,56]],
[[-59,48],[-53,47],[-56,51.5],[-59,48]],
[[-24,65],[-14,65],[-18,63.5],[-24,65]],
[[-5,50],[1,51],[-2,56],[-3,58.5],[-6,56],[-3,54],[-5,52],[-5,50]],
[[-10,52],[-6,52],[-6,55],[-10,54],[-10,52]],
[[12,78],[25,80],[20,77],[12,78]],
[[52,71],[68,77],[60,75.5],[52,71]],
[[95,79],[105,79],[100,81],[95,79]],
[[140,74],[150,75],[143,76],[140,74]],
[[9,41],[9.5,39],[8.5,39],[9,41]],
[[13,38],[15.5,38],[15,36.7],[13,38]],
[[24,35.5],[26,35],[24,35],[24,35.5]],
[[130,31],[132,34],[136,35],[140,35],[141,40],[140,41],[139,37],[133,35.5],[130,33],[130,31]],
[[140,42],[145,43],[142,45.5],[140,42]],
[[142,46],[143,54],[142,54],[142,46]],
[[120,22],[122,25],[120.5,25],[120,22]],
[[109,19],[111,20],[110,18],[109,19]],
[[120,18],[122,18],[124,12],[121,13],[120,18]],
[[122,8],[126,7],[126,9],[122,8]],
[[117,8],[120,11],[118,10],[117,8]],
[[109,1],[117,7],[119,1],[116,-4],[110,-3],[109,1]],
[[95,5],[104,-2],[106,-6],[101,-3],[95,5]],
[[105,-7],[114,-7],[114,-8.5],[106,-7.5],[105,-7]],
[[115,-8.5],[120,-8.5],[125,-9],[124,-10],[118,-9],[115,-8.5]],
[[120,1],[125,1],[120,0],[122,-4],[120,-5],[119,-3],[120,1]],
[[127,2],[128,0],[127,-1],[127,2]],
[[126,-3],[130,-3],[128,-4],[126,-3]],
[[131,-1],[141,-3],[147,-6],[150,-10],[143,-8],[138,-8],[133,-4],[131,-1]],
[[149,-5],[152,-4],[151,-6],[149,-5]],
[[155,-6],[160,-9],[158,-9],[155,-6]],
[[165,-21],[167,-22.5],[165.5,-22],[165,-21]],
[[114,-22],[122,-18],[129,-15],[131,-12],[136,-12],[136,-15],[141,-17],[142,-11],[146,-19],[153,-26],[153,-32],[150,-37],[146,-39],[140,-38],[138,-34],[135,-35],[131,-31.5],[124,-33],[118,-35],[115,-34],[114,-26],[114,-22]],
[[145,-41],[148,-41],[147,-43.5],[145,-41]],
[[173,-35],[178,-38],[175,-41],[173,-35]],
[[172,-41],[174,-42],[169,-47],[167,-45],[172,-41]],
[[49,-12],[50,-16],[47,-25],[44,-24],[44,-17],[49,-12]],
[[80,9.5],[82,7],[80,6],[80,9.5]],
[[-85,22],[-80,23],[-74,20],[-78,20],[-85,22]],
[[-74,20],[-68,19],[-72,18],[-74,20]],
[[-61,-51],[-58,-51.5],[-60,-52.5],[-61,-51]],
[[-156,20],[-155,19.5],[-155.5,19],[-156,20]],
[[-180,-84.6],[-146,-84.6],[-148,-81],[-165,-79],[-157,-78.5],[-142,-76],[-126,-74.5],[-98,-72],[-85,-73],[-76,-72.5],[-72,-71],[-66,-66.5],[-60,-63.5],[-57,-63],[-62,-66],[-61,-69],[-63,-73],[-60,-75],[-70,-77],[-62,-78.5],[-50,-78],[-35,-77.5],[-28,-75],[-15,-72.5],[0,-71],[15,-70],[30,-69.5],[40,-68],[50,-66.5],[55,-67],[70,-68],[78,-69],[90,-66.5],[100,-66],[109,-66],[120,-67],[135,-66.5],[144,-67.5],[155,-69],[165,-71],[169,-72],[164,-77],[166,-79],[166,-85],[180,-84.6]]
];
const panelNames = ["ATMS 0530 FSOI","ATMS 0530 Count","CrIS-FSR 0530 FSOI","CrIS-FSR 0530 Count","Baseline Obs FSOI","Baseline Obs Count"];
const panelTags = ["a)","b)","c)","d)","e)","f)"];
const panelRanges = [[-0.03,0.03],[0,50],[-0.03,0.03],[0,200],[-0.3,0.3],[0,2250]];
const panelTicks = [0.01,10,0.01,50,0.1,500];
const lonTicks = 60, latTicks = 30;

const hex = h => [parseInt(h.slice(1,3),16),parseInt(h.slice(3,5),16),parseInt(h.slice(5,7),16)];
const fsoiStops = [[-1,'#1a10a8'],[-.83,'#1240cf'],[-.667,'#0a7cd2'],[-.5,'#00aee0'],[-.333,'#72cbe7'],[-.167,'#c2e7f3'],[-.03,'#ffffff'],[.03,'#ffffff'],[.167,'#ffffb0'],[.333,'#ffff00'],[.5,'#ffa500'],[.667,'#ff4a00'],[.833,'#e00000'],[1,'#6b0000']];
const jetStops = [[0,'#000080'],[.125,'#0000ff'],[.375,'#00ffff'],[.625,'#ffff00'],[.875,'#ff0000'],[1,'#800000']];
function ramp(stops,t){
  if(t<=stops[0][0]) return stops[0][1];
  for(let i=1;i<stops.length;i++){
    if(t<=stops[i][0]){
      const [a,ca]=stops[i-1],[b,cb]=stops[i],f=(t-a)/(b-a),A=hex(ca),B=hex(cb);
      return 'rgb('+A.map((v,k)=>Math.round(v+(B[k]-v)*f)).join(',')+')';
    }
  }
  return stops[stops.length-1][1];
}
function colorOf(p,v){
  const [lo,hi]=panelRanges[p];
  return lo<0 ? ramp(fsoiStops,v/hi) : ramp(jetStops,(v-lo)/(hi-lo));
}
const allRows=[atmsFsoiRows,atmsCountRows,crisFsoiRows,crisCountRows,baseFsoiRows,baseCountRows];
function decode(p){
  const out=[],hi=panelRanges[p][1],isF=panelRanges[p][0]<0;
  allRows[p].forEach((row,r)=>{
    const s=row.replace(/ /g,'');
    for(let i=0;i<s.length&&i<59;i++){
      const ch=s[i];
      const v=isF?fsoiCodes[ch]*hi:countCodes.indexOf(ch)/35*hi;
      out.push([-180+6*i,82-4*r,v]);
    }
  });
  return out;
}
const coastData=[];
coastlines.forEach(l=>{l.forEach(pt=>coastData.push(pt));coastData.push(['-','-']);});

const gridLefts=[80,676], gridTops=[72,486,900], cbOffset=420;
const txt='#404040', font='Roboto', fs=19;
const opt={animation:false,backgroundColor:'#fff',title:[],grid:[],xAxis:[],yAxis:[],series:[]};
panelNames.forEach((name,p)=>{
  const L=gridLefts[p%2],T=gridTops[Math.floor(p/2)];
  const base=opt.xAxis.length;
  const g=opt.grid.length;
  opt.grid.push({left:L,top:T,width:385,height:300,show:true,borderColor:'#555',borderWidth:1,backgroundColor:'#fff'});
  opt.grid.push({left:L+cbOffset,top:T,width:29,height:300,show:true,borderColor:'#444',borderWidth:1,backgroundColor:'#fff'});
  const line={show:true,lineStyle:{color:'#555',width:1}};
  const tick={show:true,inside:true,length:3,lineStyle:{color:'#555'}};
  opt.xAxis.push({gridIndex:g,type:'value',min:-180,max:180,interval:lonTicks,splitLine:{show:false},axisLine:{...line,onZero:false},axisTick:tick,
    axisLabel:{color:txt,fontFamily:font,fontSize:fs,margin:9,showMinLabel:true,showMaxLabel:true},
    name:'Longitude',nameLocation:'middle',nameGap:38,nameTextStyle:{color:txt,fontFamily:font,fontSize:21}});
  opt.yAxis.push({gridIndex:g,type:'value',min:-90,max:90,interval:latTicks,splitLine:{show:false},axisLine:{...line,onZero:false},axisTick:tick,
    axisLabel:{color:txt,fontFamily:font,fontSize:fs,margin:4,padding:[6,0,0,0],showMinLabel:true,showMaxLabel:true,verticalAlignMinLabel:'middle',verticalAlignMaxLabel:'middle'},
    name:'Latitude',nameLocation:'middle',nameGap:39,nameTextStyle:{color:txt,fontFamily:font,fontSize:21}});
  opt.xAxis.push({gridIndex:g,type:'value',position:'top',min:-180,max:180,interval:lonTicks,splitLine:{show:false},axisLine:{...line,onZero:false},axisTick:tick,axisLabel:{show:false}});
  opt.yAxis.push({gridIndex:g,type:'value',position:'right',min:-90,max:90,interval:latTicks,splitLine:{show:false},axisLine:{...line,onZero:false},axisTick:tick,axisLabel:{show:false}});
  const [lo,hi]=panelRanges[p];
  const showEnds=p===4;
  opt.xAxis.push({gridIndex:g+1,type:'value',min:0,max:1,show:false});
  const cbLabel={color:txt,fontFamily:font,fontSize:17,margin:9,padding:[6,0,0,0],verticalAlignMinLabel:'middle',verticalAlignMaxLabel:'middle',
    showMinLabel:lo<0?showEnds:true,showMaxLabel:lo<0?showEnds:(p!==5)};
  if(lo>=0) cbLabel.formatter=v=>String(v);
  opt.yAxis.push({gridIndex:g+1,type:'value',position:'right',min:lo,max:hi,interval:panelTicks[p],splitLine:{show:false},
    axisLine:{show:true,onZero:false,lineStyle:{color:'#444'}},axisTick:{show:true,inside:true,length:3,lineStyle:{color:'#333'}},
    axisLabel:cbLabel});
  const cells=decode(p);
  opt.series.push({type:'custom',xAxisIndex:base,yAxisIndex:base,data:cells,encode:{x:0,y:1},silent:true,clip:true,
    renderItem:(params,api)=>{
      const a=api.coord([api.value(0),api.value(1)]),b=api.coord([api.value(0)+6,api.value(1)+4]);
      const x0=Math.round(a[0]),x1=Math.round(b[0]),y1=Math.round(a[1]),y0=Math.round(b[1]);
      return {type:'rect',shape:{x:x0,y:y0,width:x1-x0,height:y1-y0},style:{fill:colorOf(p,api.value(2))}};
    }});
  opt.series.push({type:'line',xAxisIndex:base,yAxisIndex:base,data:coastData,showSymbol:false,symbol:'none',silent:true,connectNulls:false,clip:true,z:5,
    lineStyle:{color:'#000',width:1.1}});
  const steps=[];const n=128;
  for(let i=0;i<n;i++) steps.push([0,lo+(hi-lo)*i/n,lo+(hi-lo)*(i+1)/n]);
  opt.series.push({type:'custom',xAxisIndex:base+2,yAxisIndex:base+2,data:steps,encode:{x:0,y:[1,2]},silent:true,
    renderItem:(params,api)=>{
      const a=api.coord([0,api.value(1)]),b=api.coord([1,api.value(2)]);
      return {type:'rect',shape:{x:a[0],y:b[1],width:b[0]-a[0],height:a[1]-b[1]+0.6},style:{fill:colorOf(p,(api.value(1)+api.value(2))/2)}};
    }});
  opt.title.push({text:name,left:L+187,top:T-29,textAlign:'center',textStyle:{color:'#111',fontFamily:font,fontSize:21,fontWeight:'bold'}});
  opt.title.push({text:panelTags[p],left:L-47,top:T-47,textStyle:{color:'#222',fontFamily:font,fontSize:22,fontWeight:'normal'}});
});
const chart=echarts.init(document.getElementById('c'),null,{renderer:'canvas',width:1200,height:1285});
chart.setOption(opt);
</script></body></html>
